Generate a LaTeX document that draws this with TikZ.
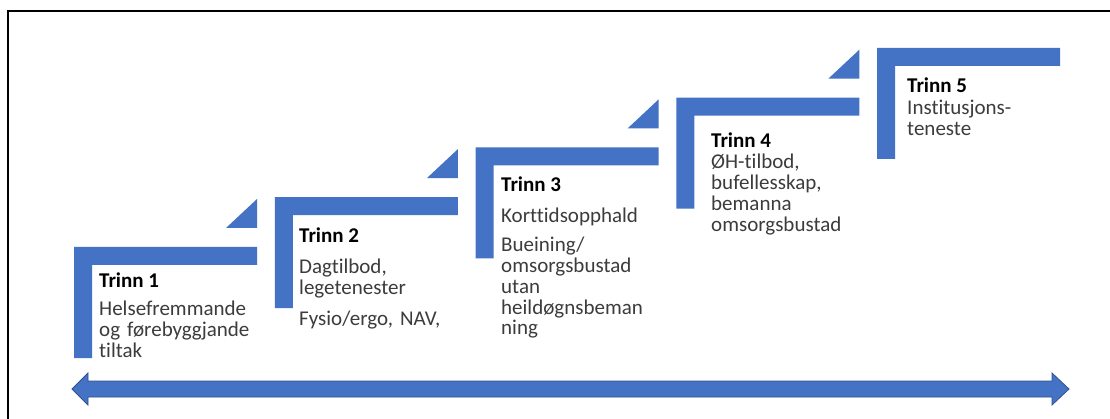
\documentclass[tikz,border=0pt]{standalone}
\usepackage{fontspec}
\setmainfont{Carlito}[Ligatures=NoCommon]
\definecolor{stepblue}{RGB}{68,114,196}
\definecolor{stepedge}{RGB}{47,82,143}
\definecolor{bodygray}{RGB}{60,60,60}
\begin{document}
\begin{tikzpicture}[x=1pt,y=-1pt,
  titletext/.style={anchor=base west,inner sep=0pt,font=\fontsize{21}{21}\selectfont\bfseries,text=black},
  bodytext/.style={anchor=base west,inner sep=0pt,align=left,text width=200pt,font=\fontsize{21}{20.7}\selectfont,text=bodygray}]
\useasboundingbox (0,0) rectangle (1110,419);
\fill[white] (0,0) rectangle (1110,419);
% frame (extends beyond the visible area)
\draw[line width=1.6pt] (8,419) -- (8,11) -- (1110,11);
% steps
\foreach \i in {0,...,4}{
  \pgfmathsetmacro{\xo}{74+200.75*\i}
  \pgfmathsetmacro{\yo}{247-49.75*\i}
  \fill[stepblue] (\xo,\yo) -- ++(183,0) -- ++(0,18) -- ++(-165,0) -- ++(0,93) -- ++(-18,0) -- cycle;
}
\foreach \i in {0,...,3}{
  \pgfmathsetmacro{\xo}{74+200.75*\i}
  \pgfmathsetmacro{\yo}{247-49.75*\i}
  \fill[stepblue] (\xo+152,\yo-19) -- (\xo+183,\yo-19) -- (\xo+183,\yo-48) -- cycle;
}
% texts
\node[titletext] (t1) at (99,288) {Trinn 1};
\node[bodytext]  (b1) at (99,316) {Helsefremmande\\og førebyggjande\\tiltak};
\node[titletext] (t2) at (299,243) {Trinn 2};
\node[bodytext]  (b2) at (299,274) {Dagtilbod,\\legetenester};
\node[bodytext]  (c2) at (299,325) {Fysio/ergo, NAV,};
\node[titletext] (t3) at (501,192) {Trinn 3};
\node[bodytext]  (b3) at (501,223) {Korttidsopphald};
\node[bodytext]  (c3) at (501,252) {Bueining/\\omsorgsbustad\\utan\\heildøgnsbeman\\ning};
\node[titletext] (t4) at (711,148) {Trinn 4};
\node[bodytext]  (b4) at (711,169) {ØH-tilbod,\\bufellesskap,\\bemanna\\omsorgsbustad};
\node[titletext] (t5) at (907,93) {Trinn 5};
\node[bodytext]  (b5) at (907,115) {Institusjons-\\teneste};
% double arrow
\filldraw[fill=stepblue,draw=stepedge,line width=0.8pt,line join=miter]
  (72,389) -- (88,373) -- (88,381) -- (1052,381) -- (1052,373) -- (1069,389)
  -- (1052,405) -- (1052,397) -- (88,397) -- (88,405) -- cycle;
\end{tikzpicture}
\end{document}
